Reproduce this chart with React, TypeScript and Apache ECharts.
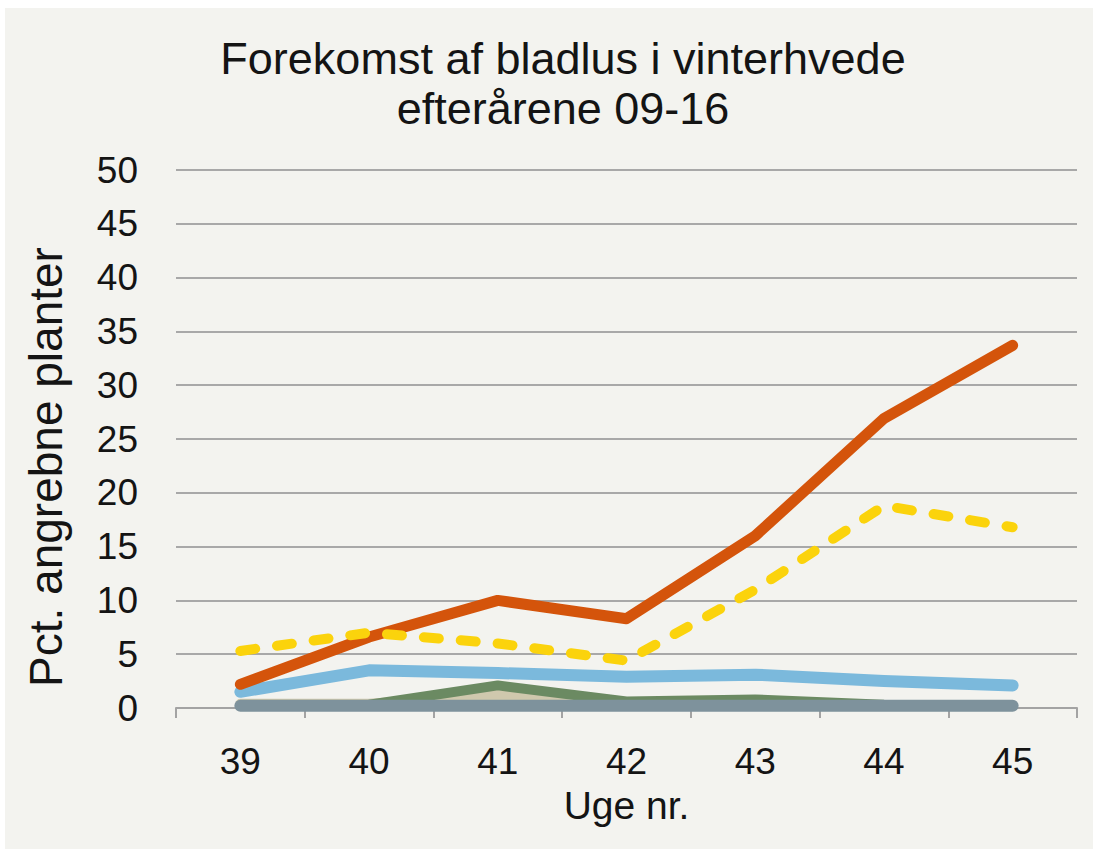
import React, { useEffect, useRef } from "react";
import * as echarts from "echarts";

const weeks = ["39", "40", "41", "42", "43", "44", "45"];
const seriesOrange = [2.2, 6.6, 10.0, 8.3, 16.0, 26.9, 33.7];
const seriesYellow = [5.3, 7.0, 6.0, 4.4, 11.0, 18.8, 16.8];
const seriesBlue = [1.5, 3.5, 3.25, 2.9, 3.1, 2.5, 2.1];
const seriesBeige = [0.4, 0.4, 1.2, 0.3, 0.4, 0.2, 0.2];
const seriesGreen = [0.2, 0.3, 2.1, 0.6, 0.8, 0.3, 0.2];
const seriesGrey = [0.2, 0.2, 0.2, 0.2, 0.2, 0.2, 0.2];

const FONT = "'Liberation Sans', Arial, sans-serif";

export default function App() {
  const ref = useRef<HTMLDivElement>(null);
  useEffect(() => {
    if (!ref.current) return;
    const chart = echarts.init(ref.current, undefined, { renderer: "svg" });
    const line = (data: number[], color: string, width: number, type: any = "solid", z = 2) => ({
      type: "line",
      data,
      showSymbol: false,
      symbol: "none",
      z,
      lineStyle: { color, width, type, cap: "round", join: "round" },
    });
    chart.setOption({
      animation: false,
      backgroundColor: "#ffffff",
      textStyle: { fontFamily: FONT },
      title: {
        text: "Forekomst af bladlus i vinterhvede\nefterårene 09-16",
        left: 558,
        textAlign: "center",
        top: 28,
        textStyle: { fontSize: 45, fontWeight: "normal", color: "#141414", lineHeight: 50, fontFamily: FONT },
      },
      graphic: [
        { type: "rect", z: -10, silent: true, shape: { x: 5, y: 8, width: 1088, height: 841 }, style: { fill: "#f3f3ef" } },
        {
          type: "text",
          x: 46,
          y: 467,
          rotation: Math.PI / 2,
          scaleX: 1.15,
          scaleY: 1.15,
          style: { text: "Pct. angrebne planter", font: `40px ${FONT}`, fill: "#141414", align: "center", verticalAlign: "middle" },
        },
      ],
      grid: { left: 176, right: 16, top: 170, bottom: 141 },
      xAxis: {
        type: "category",
        data: weeks,
        boundaryGap: true,
        name: "Uge nr.",
        nameLocation: "middle",
        nameGap: 78,
        nameTextStyle: { fontSize: 39, color: "#141414", fontFamily: FONT },
        axisLine: { lineStyle: { color: "#a3a3a3", width: 2 } },
        axisTick: { show: true, length: 10, lineStyle: { color: "#a3a3a3", width: 2 } },
        axisLabel: { fontSize: 37, color: "#141414", margin: 35, fontFamily: FONT },
        splitLine: { show: false },
      },
      yAxis: {
        type: "value",
        min: 0,
        max: 50,
        interval: 5,
        axisLine: { show: false },
        axisTick: { show: false },
        axisLabel: { fontSize: 37, color: "#141414", margin: 38, fontFamily: FONT },
        splitLine: { lineStyle: { color: "#a8a8a8", width: 2 } },
      },
      series: [
        line(seriesBeige, "#cfc8ad", 10, "solid", 2),
        line(seriesGreen, "#6b8a62", 10, "solid", 3),
        line(seriesGrey, "#7e929c", 12, "solid", 4),
        line(seriesBlue, "#7bb9dc", 12, "solid", 5),
        line(seriesOrange, "#d4540b", 11, "solid", 6),
        line(seriesYellow, "#fbd30c", 10, [15, 22], 7),
      ],
    });
    return () => chart.dispose();
  }, []);
  return <div ref={ref} style={{ position: "absolute", left: 0, top: 0, width: 1093, height: 849 }} />;
}
